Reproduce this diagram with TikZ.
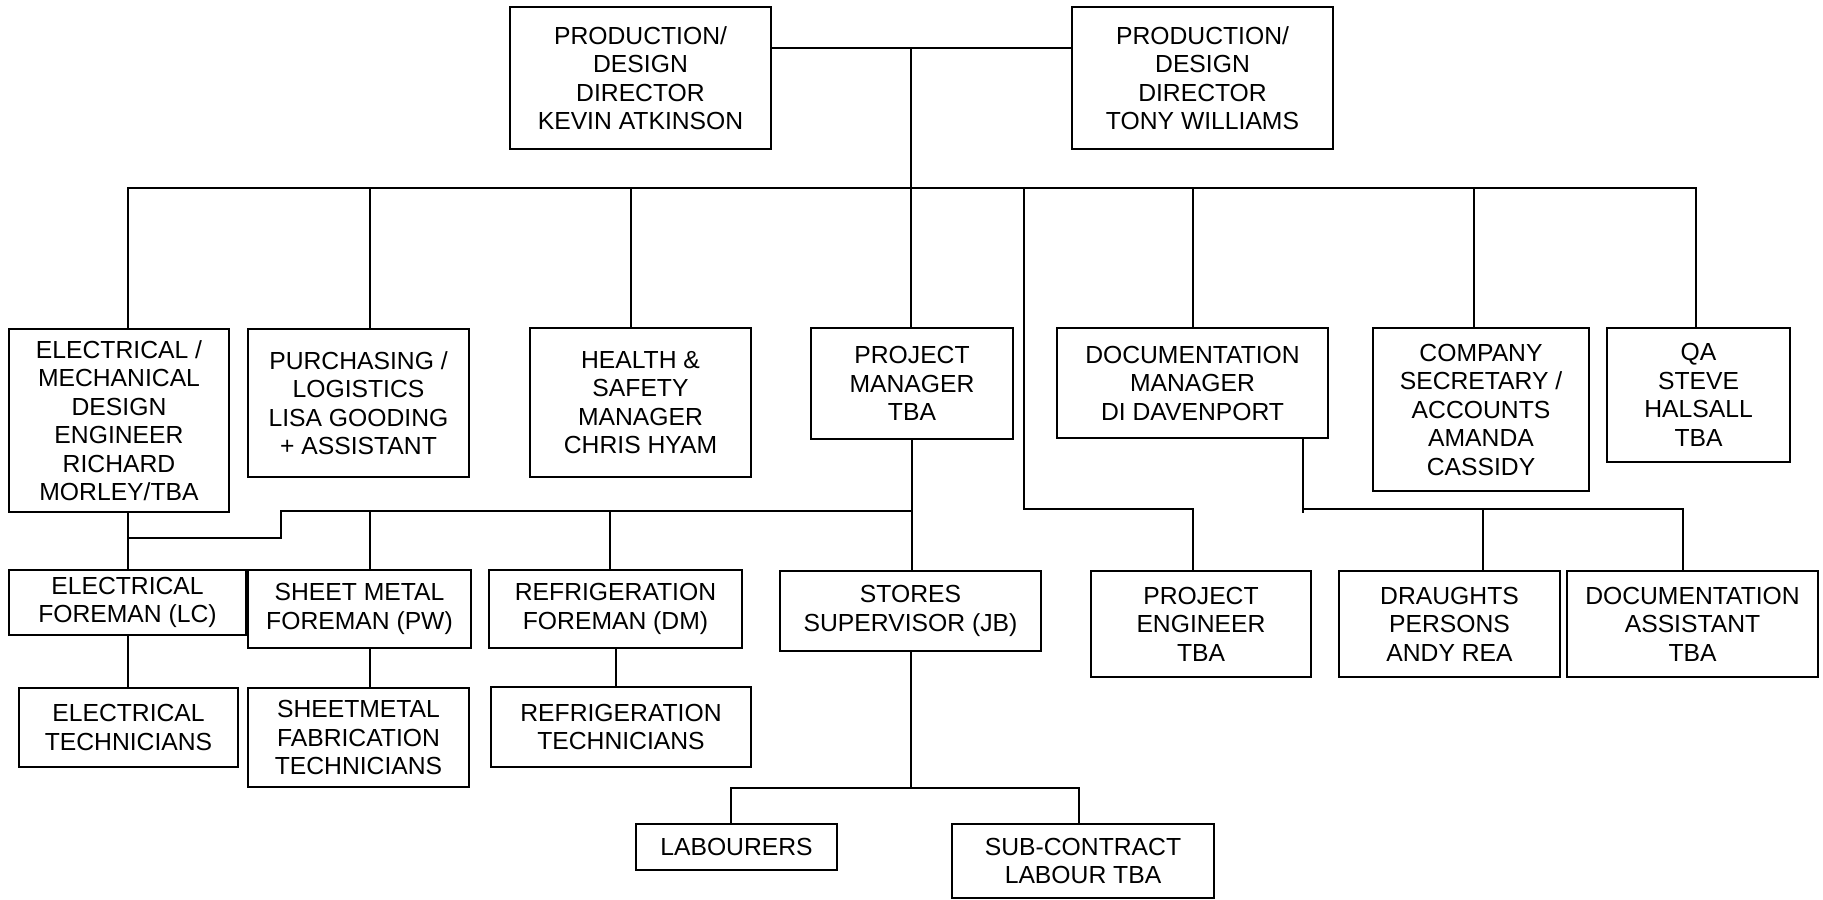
\documentclass[tikz,border=0pt]{standalone}
\usepackage{fontspec}
\setmainfont{Liberation Sans}
\begin{document}
\begin{tikzpicture}[x=0.5pt,y=-0.5pt,line width=1pt]
	\tikzset{box/.style={draw,align=center,inner sep=0pt,font=\fontsize{12.35}{14.25}\selectfont},
		sz/.style 2 args={minimum width=#1*0.5pt,minimum height=#2*0.5pt}}
	\useasboundingbox (0,0) rectangle (1823,899);
	%Directors
	\node[box,sz={261}{142}] (ka) at (640.5,78) {PRODUCTION/\\DESIGN\\DIRECTOR\\KEVIN ATKINSON};
	\node[box,sz={261}{142}] (tw) at (1202.5,78) {PRODUCTION/\\DESIGN\\DIRECTOR\\TONY WILLIAMS};
	%Managers
	\node[box,sz={220}{183}] (em) at (119,420.5) {ELECTRICAL /\\MECHANICAL\\DESIGN\\ENGINEER\\RICHARD\\MORLEY/TBA};
	\node[box,sz={221}{148}] (pl) at (358.5,403) {PURCHASING /\\LOGISTICS\\LISA GOODING\\+ ASSISTANT};
	\node[box,sz={221}{149}] (hs) at (640.5,402.5) {HEALTH \&\\SAFETY\\MANAGER\\CHRIS HYAM};
	\node[box,sz={202}{111}] (pm) at (912,383.5) {PROJECT\\MANAGER\\TBA};
	\node[box,sz={271}{110}] (dm) at (1192.5,383) {DOCUMENTATION\\MANAGER\\DI DAVENPORT};
	\node[box,sz={216}{163}] (cs) at (1481,409.5) {COMPANY\\SECRETARY /\\ACCOUNTS\\AMANDA\\CASSIDY};
	\node[box,sz={183}{134}] (qa) at (1698.5,395) {QA\\STEVE\\HALSALL\\TBA};
	%Foremen
	\node[box,sz={237}{65}] (ef) at (127.5,602.5) {ELECTRICAL\\FOREMAN (LC)};
	\node[box,sz={223}{78}] (smf) at (359.5,609) {SHEET METAL\\FOREMAN (PW)};
	\node[box,sz={253}{78}] (rf) at (615.5,609) {REFRIGERATION\\FOREMAN (DM)};
	\node[box,sz={261}{80}] (ss) at (910.5,611) {STORES\\SUPERVISOR (JB)};
	\node[box,sz={220}{106}] (pe) at (1201,624) {PROJECT\\ENGINEER\\TBA};
	\node[box,sz={221}{106}] (dp) at (1449.5,624) {DRAUGHTS\\PERSONS\\ANDY REA};
	\node[box,sz={251}{106}] (da) at (1692.5,624) {DOCUMENTATION\\ASSISTANT\\TBA};
	%Technicians
	\node[box,sz={219}{79}] (et) at (128.5,727.5) {ELECTRICAL\\TECHNICIANS};
	\node[box,sz={221}{99}] (sft) at (358.5,737.5) {SHEETMETAL\\FABRICATION\\TECHNICIANS};
	\node[box,sz={260}{80}] (rt) at (621,727) {REFRIGERATION\\TECHNICIANS};
	\node[box,sz={201}{46}] (lab) at (736.5,847) {LABOURERS};
	\node[box,sz={262}{74}] (sc) at (1083,861) {SUB-CONTRACT\\LABOUR TBA};
	%Lines
	\coordinate (top) at (911,48);
	\coordinate (bus) at (911,188);
	\coordinate (busl) at (128,188);
	\coordinate (busr) at (1696,188);
	\draw (ka.east |- top) -- (tw.west |- top) (top) -- (bus);
	\draw (busl |- em.north) -- (busl) -- (busr) -- (busr |- qa.north);
	\foreach \x/\n in {370/pl,631/hs,911/pm,1193/dm,1474/cs}
	\draw (\x,188) -- (\x,188 |- \n.north);
	\draw (1024,188) |- (1193,509) -- (1193,509 |- pe.north);
	%Project manager
	\draw (pm.south) -- (pm.south |- ss.north);
	\draw (ef.north |- em.south) -- (ef.north);
	\draw (ef.north |- 0,538) -| (281,511) -- (pm.south |- 0,511);
	\draw (370,511) -- (370,511 |- smf.north) (610,511) -- (610,511 |- rf.north);
	\draw (ef.south) -- (ef.south |- et.north);
	\draw (370,0 |- smf.south) -- (370,0 |- sft.north);
	\draw (rf.south) -- (rf.south |- rt.north);
	%Stores
	\coordinate (st) at (912,788);
	\draw (ss.south) -- (ss.south |- st);
	\draw (731,788 |- lab.north) |- (st) -| (1079,788 |- sc.north);
	%Documentation
	\draw (1303,0 |- dm.south) -- (1303,513) (1303,509) -- (1683,509) -- (1683,509 |- da.north);
	\draw (1483,509) -- (1483,509 |- dp.north);
\end{tikzpicture}
\end{document}
